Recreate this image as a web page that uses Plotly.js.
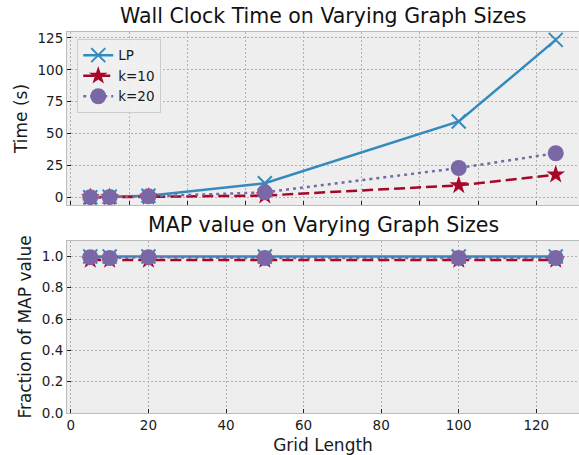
<!DOCTYPE html>
<html>
<head>
<meta charset="utf-8">
<script src="https://cdn.plot.ly/plotly-3.0.1.min.js"></script>
<style>html,body{margin:0;padding:0;background:#fff;}#chart{width:579px;height:455px;}</style>
</head>
<body>
<div id="chart"></div>
<script>
// ---- data ----
const gridLength = [5, 10, 20, 50, 100, 125];
const lpTime  = [0.1, 0.4, 1.3, 11, 59.5, 123.5];
const k10Time = [0.05, 0.1, 0.4, 1.4, 9.4, 17.8];
const k20Time = [0.1, 0.2, 0.8, 3.9, 23, 34.6];
const lpMap  = [1.0, 1.0, 1.0, 1.0, 1.0, 1.0];
const k10Map = [0.978, 0.978, 0.978, 0.978, 0.978, 0.978];
const k20Map = [0.995, 0.99, 0.995, 0.99, 0.99, 0.99];
const seriesNames = ['LP', 'k=10', 'k=20'];
const topTitle = 'Wall Clock Time on Varying Graph Sizes';
const bottomTitle = 'MAP value on Varying Graph Sizes';
const topYLabel = 'Time (s)';
const bottomYLabel = 'Fraction of MAP value';
const xLabel = 'Grid Length';

const C_LP = '#348ABD', C_K10 = '#A60628', C_K20 = '#7A68A6';
const styles = [
  {color: C_LP, dash: 'solid', symbol: 'x-thin', size: 14, lineW: 2},
  {color: C_K10, dash: '11px,5px', symbol: 'star', size: 14, lineW: 0},
  {color: C_K20, dash: '3px,4px', symbol: 'circle', size: 16, lineW: 0}
];
function mk(y, i, xa, ya, show) {
  const s = styles[i];
  return {
    x: gridLength, y: y, xaxis: xa, yaxis: ya, type: 'scatter', mode: 'lines+markers',
    name: seriesNames[i], showlegend: show,
    line: {color: s.color, width: 2.5, dash: s.dash},
    marker: {symbol: s.symbol, size: s.size, color: s.color, line: {color: s.color, width: s.lineW}}
  };
}
const data = [
  mk(lpTime, 0, 'x', 'y', true), mk(k10Time, 1, 'x', 'y', true), mk(k20Time, 2, 'x', 'y', true),
  mk(lpMap, 0, 'x2', 'y2', false), mk(k10Map, 1, 'x2', 'y2', false), mk(k20Map, 2, 'x2', 'y2', false)
];
const FONT = 'DejaVu Sans';
const axBase = {
  showgrid: true, gridcolor: '#b2b2b2', griddash: '2px,2px', gridwidth: 1,
  showline: true, mirror: true, linecolor: '#bcbcbc', linewidth: 1,
  ticks: 'inside', ticklen: 4, tickcolor: '#222', zeroline: false,
  tickfont: {family: FONT, size: 13.5, color: '#1a1a1a'}
};
const layout = {
  width: 579, height: 455,
  margin: {l: 67, r: 0, t: 32, b: 42},
  paper_bgcolor: '#ffffff', plot_bgcolor: '#eeeeee',
  font: {family: FONT, color: '#1a1a1a'},
  showlegend: true,
  legend: {x: 0.02, y: 0.982, xanchor: 'left', yanchor: 'top', tracegroupgap: 0,
    bgcolor: 'rgba(240,240,240,0.9)', bordercolor: '#cccccc', borderwidth: 1,
    font: {family: FONT, size: 13.5, color: '#1a1a1a'}},
  xaxis: Object.assign({}, axBase, {domain: [0, 1], anchor: 'y', range: [-1, 131], tick0: 0, dtick: 15, showticklabels: false}),
  yaxis: Object.assign({}, axBase, {domain: [0.546, 1], anchor: 'x', range: [-6, 129.7], tick0: 0, dtick: 25,
    title: {text: topYLabel, font: {family: FONT, size: 17}, standoff: 5}}),
  xaxis2: Object.assign({}, axBase, {domain: [0, 1], anchor: 'y2', range: [-1, 131], tick0: 0, dtick: 20,
    title: {text: xLabel, font: {family: FONT, size: 17}, standoff: 6}}),
  yaxis2: Object.assign({}, axBase, {domain: [0, 0.452], anchor: 'x2', range: [0, 1.1], tick0: 0, dtick: 0.2, tickformat: '.1f',
    title: {text: bottomYLabel, font: {family: FONT, size: 17}, standoff: 5}}),
  annotations: [
    {text: topTitle, xref: 'paper', yref: 'paper', x: 0.5, y: 1.042, xanchor: 'center', yanchor: 'middle', showarrow: false,
     font: {family: FONT, size: 20.5, color: '#111'}},
    {text: bottomTitle, xref: 'paper', yref: 'paper', x: 0.5, y: 0.493, xanchor: 'center', yanchor: 'middle', showarrow: false,
     font: {family: FONT, size: 20.5, color: '#111'}}
  ]
};
Plotly.newPlot('chart', data, layout, {displayModeBar: false, staticPlot: true});
</script>
</body>
</html>
